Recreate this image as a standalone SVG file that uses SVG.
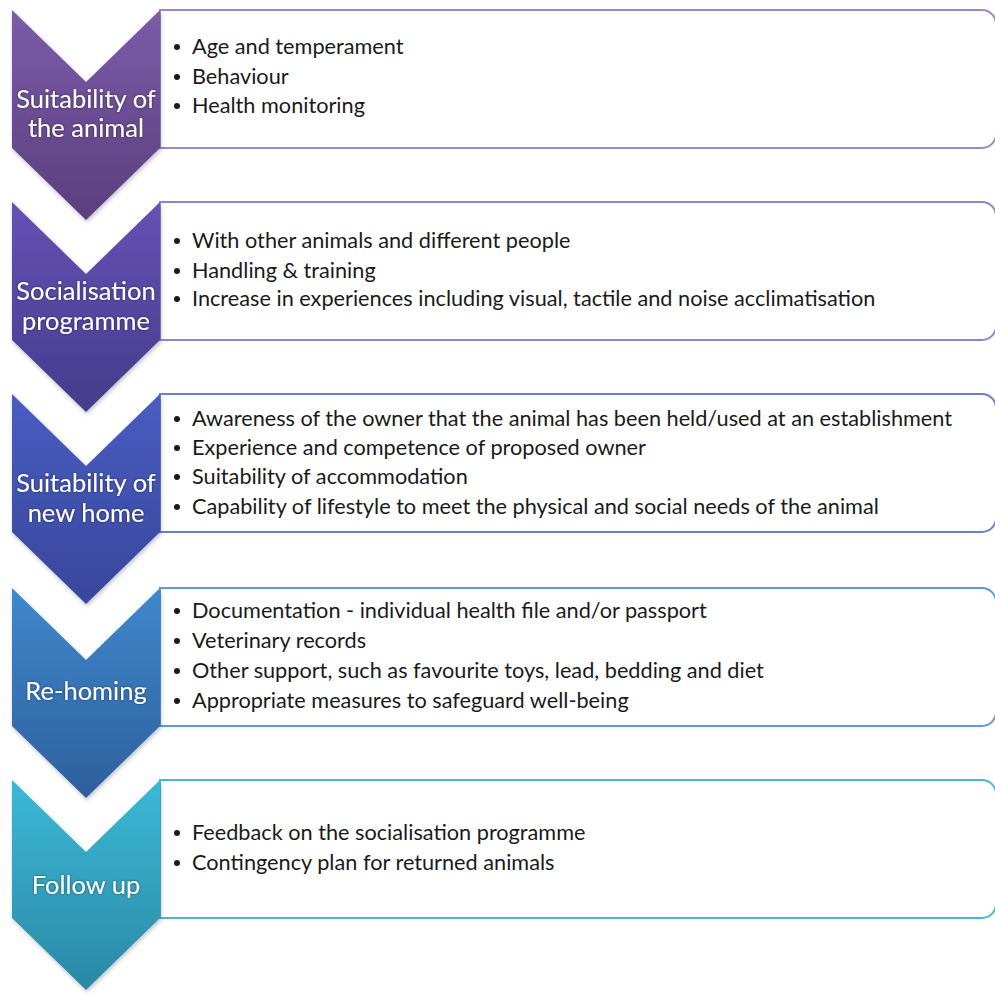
<svg xmlns="http://www.w3.org/2000/svg" width="995" height="994" viewBox="0 0 995 994">
<style>
.box{fill:#ffffff;stroke-width:2}
.item{font-family:Lato,"Liberation Sans",sans-serif;font-size:21.7px;fill:#1a1a1a}
.lbl{font-family:Lato,"Liberation Sans",sans-serif;font-size:25.5px;fill:#ffffff;text-anchor:middle}
.bul{fill:#1a1a1a}
</style>
<defs>
<linearGradient id="g1" x1="0" y1="0" x2="0" y2="1"><stop offset="0" stop-color="#7c5ca8"/><stop offset="1" stop-color="#5a3e7e"/></linearGradient>
<linearGradient id="g2" x1="0" y1="0" x2="0" y2="1"><stop offset="0" stop-color="#6452b4"/><stop offset="1" stop-color="#463b8c"/></linearGradient>
<linearGradient id="g3" x1="0" y1="0" x2="0" y2="1"><stop offset="0" stop-color="#4a5cc2"/><stop offset="1" stop-color="#38479a"/></linearGradient>
<linearGradient id="g4" x1="0" y1="0" x2="0" y2="1"><stop offset="0" stop-color="#3f88cc"/><stop offset="1" stop-color="#2d5f9c"/></linearGradient>
<linearGradient id="g5" x1="0" y1="0" x2="0" y2="1"><stop offset="0" stop-color="#3bb9d6"/><stop offset="1" stop-color="#2a88a6"/></linearGradient>
<filter id="sh" x="-10%" y="-10%" width="130%" height="130%"><feDropShadow dx="1" dy="2" stdDeviation="2" flood-color="#000" flood-opacity="0.25"/></filter>
<filter id="ts" x="-10%" y="-30%" width="120%" height="160%"><feDropShadow dx="0" dy="0" stdDeviation="1.2" flood-color="#000" flood-opacity="0.6"/></filter>
</defs>

<g id="step1">
<path class="box" stroke="#9c88c4" d="M160,10 H982 A14,14 0 0 1 996,24 V134 A14,14 0 0 1 982,148 H160 Z"/>
<polygon fill="url(#g1)" filter="url(#sh)" points="12,10 86,82 160,10 160,148 86,220 12,148"/>
<g class="lbl" filter="url(#ts)"><text x="86" y="108">Suitability of</text><text x="86" y="137">the animal</text></g>
<g><circle class="bul" cx="177" cy="47" r="3"/><text class="item" x="192" y="54">Age and temperament</text>
<circle class="bul" cx="177" cy="77" r="3"/><text class="item" x="192" y="84">Behaviour</text>
<circle class="bul" cx="177" cy="106" r="3"/><text class="item" x="192" y="113">Health monitoring</text></g>
</g>

<g id="step2">
<path class="box" stroke="#8e86cc" d="M160,202 H982 A14,14 0 0 1 996,216 V326 A14,14 0 0 1 982,340 H160 Z"/>
<polygon fill="url(#g2)" filter="url(#sh)" points="12,202 86,274 160,202 160,340 86,412 12,340"/>
<g class="lbl" filter="url(#ts)"><text x="86" y="300">Socialisation</text><text x="86" y="330">programme</text></g>
<g><circle class="bul" cx="177" cy="241" r="3"/><text class="item" x="192" y="248">With other animals and different people</text>
<circle class="bul" cx="177" cy="271" r="3"/><text class="item" x="192" y="278">Handling &amp; training</text>
<circle class="bul" cx="177" cy="299" r="3"/><text class="item" x="192" y="306">Increase in experiences including visual, tactile and noise acclimatisation</text></g>
</g>

<g id="step3">
<path class="box" stroke="#6f7ecc" d="M160,394 H982 A14,14 0 0 1 996,408 V518 A14,14 0 0 1 982,532 H160 Z"/>
<polygon fill="url(#g3)" filter="url(#sh)" points="12,394 86,466 160,394 160,532 86,604 12,532"/>
<g class="lbl" filter="url(#ts)"><text x="86" y="492">Suitability of</text><text x="86" y="522">new home</text></g>
<g><circle class="bul" cx="177" cy="419" r="3"/><text class="item" x="192" y="426">Awareness of the owner that the animal has been held/used at an establishment</text>
<circle class="bul" cx="177" cy="448" r="3"/><text class="item" x="192" y="455">Experience and competence of proposed owner</text>
<circle class="bul" cx="177" cy="477" r="3"/><text class="item" x="192" y="484">Suitability of accommodation</text>
<circle class="bul" cx="177" cy="507" r="3"/><text class="item" x="192" y="514">Capability of lifestyle to meet the physical and social needs of the animal</text></g>
</g>

<g id="step4">
<path class="box" stroke="#5c9ad6" d="M160,588 H982 A14,14 0 0 1 996,602 V712 A14,14 0 0 1 982,726 H160 Z"/>
<polygon fill="url(#g4)" filter="url(#sh)" points="12,588 86,660 160,588 160,726 86,798 12,726"/>
<g class="lbl" filter="url(#ts)"><text x="86" y="700">Re-homing</text></g>
<g><circle class="bul" cx="177" cy="611" r="3"/><text class="item" x="192" y="618">Documentation - individual health file and/or passport</text>
<circle class="bul" cx="177" cy="641" r="3"/><text class="item" x="192" y="648">Veterinary records</text>
<circle class="bul" cx="177" cy="671" r="3"/><text class="item" x="192" y="678">Other support, such as favourite toys, lead, bedding and diet</text>
<circle class="bul" cx="177" cy="701" r="3"/><text class="item" x="192" y="708">Appropriate measures to safeguard well-being</text></g>
</g>

<g id="step5">
<path class="box" stroke="#4ab6d6" d="M160,780 H982 A14,14 0 0 1 996,794 V904 A14,14 0 0 1 982,918 H160 Z"/>
<polygon fill="url(#g5)" filter="url(#sh)" points="12,780 86,852 160,780 160,918 86,990 12,918"/>
<g class="lbl" filter="url(#ts)"><text x="86" y="894">Follow up</text></g>
<g><circle class="bul" cx="177" cy="833" r="3"/><text class="item" x="192" y="840">Feedback on the socialisation programme</text>
<circle class="bul" cx="177" cy="863" r="3"/><text class="item" x="192" y="870">Contingency plan for returned animals</text></g>
</g>

<g id="connectors"></g>
</svg>
